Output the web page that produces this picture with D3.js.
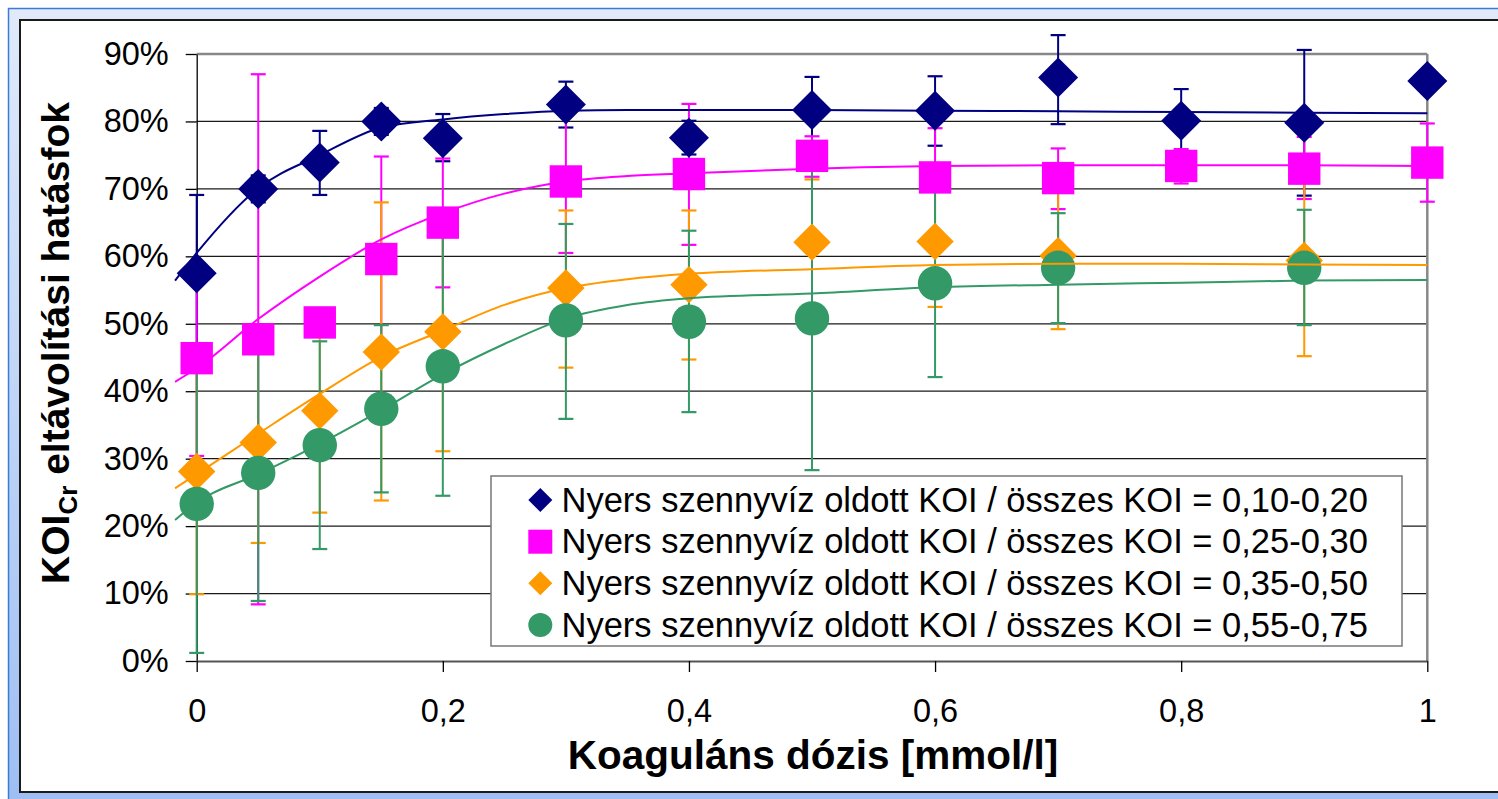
<!DOCTYPE html>
<html>
<head>
<meta charset="utf-8">
<script src="https://cdn.jsdelivr.net/npm/d3@7"></script>
<style>
  body { margin: 0; background: #fff; }
  svg { display: block; font-family: Arial, "Liberation Sans", sans-serif; }
</style>
</head>
<body>
<script>
// dose values (mmol/l)
var doses = [0, 0.05, 0.1, 0.15, 0.2, 0.3, 0.4, 0.5, 0.6, 0.7, 0.8, 0.9, 1.0];

// measured efficiency (%) per series, null = no point
var navyVals    = [57.5, 70.0, 73.9, 80.0, 77.5, 82.5, 77.6, 81.7, 81.6, 86.5, 80.1, 79.8, 86.0];
var navyHi      = [69.1, 72.0, 78.6, 82.0, 81.1, 85.9, 80.1, 86.6, 86.7, 92.8, 84.8, 90.6, null];
var navyLo      = [46.0, 68.0, 69.1, 78.0, 74.1, 79.1, 75.1, 76.8, 76.4, 79.6, 75.4, 69.0, null];

var pinkVals    = [44.9, 47.7, 50.2, 59.6, 65.0, 71.1, 72.2, 74.9, 71.7, 71.6, 73.4, 73.0, 73.9];
var pinkHi      = [58.5, 87.0, 52.0, 74.8, 74.5, 81.7, 82.6, 77.8, 79.0, 76.0, 75.9, 77.7, 79.7];
var pinkLo      = [30.4, 8.4, 48.4, 44.4, 55.4, 60.5, 61.7, 71.8, 70.0, 67.0, 70.8, 68.5, 68.1];

var orangeVals  = [28.1, 32.4, 37.1, 45.8, 48.8, 55.3, 55.8, 62.1, 62.2, 60.1, null, 59.4, null];
var orangeHi    = [46.0, 47.0, 52.2, 68.0, 66.5, 66.8, 66.8, 71.4, 72.0, 71.0, null, 73.0, null];
var orangeLo    = [9.9, 17.5, 22.0, 23.8, 31.1, 43.5, 44.7, 52.8, 52.5, 49.2, null, 45.2, null];

var greenVals   = [23.3, 27.9, 32.0, 37.4, 43.7, 50.5, 50.3, 50.8, 56.0, 58.3, null, 58.3, null];
var greenHi     = [45.4, 46.9, 47.4, 49.8, 63.0, 64.8, 63.8, 73.0, 70.0, 66.4, null, 66.9, null];
var greenLo     = [1.2, 8.9, 16.6, 25.0, 24.5, 35.9, 36.9, 28.3, 42.1, 50.1, null, 49.8, null];

// trend lines
var trendX      = [-0.0176, 0, 0.05, 0.1, 0.15, 0.2, 0.25, 0.3, 0.35, 0.4, 0.5, 0.6, 0.7, 0.8, 0.9, 1.0];
var navyTrend   = [56.4, 60.5, 70.1, 75.0, 79.1, 80.3, 81.1, 81.6, 81.7, 81.7, 81.7, 81.6, 81.5, 81.4, 81.3, 81.2];
var pinkTrend   = [41.4, 43.4, 50.7, 57.0, 62.5, 66.4, 69.3, 71.1, 71.9, 72.3, 73.0, 73.4, 73.5, 73.5, 73.5, 73.4];
var orangeTrend = [25.6, 27.7, 33.7, 39.6, 45.1, 49.0, 52.8, 55.3, 56.6, 57.4, 58.1, 58.7, 58.9, 58.9, 58.8, 58.7];
var greenTrend  = [20.9, 23.5, 27.7, 32.2, 37.2, 42.5, 47.0, 50.8, 52.8, 53.8, 54.5, 55.4, 55.8, 56.1, 56.4, 56.5];

var seriesNames = [
  "Nyers szennyvíz oldott KOI / összes KOI = 0,10-0,20",
  "Nyers szennyvíz oldott KOI / összes KOI = 0,25-0,30",
  "Nyers szennyvíz oldott KOI / összes KOI = 0,35-0,50",
  "Nyers szennyvíz oldott KOI / összes KOI = 0,55-0,75"
];

var yTicks = [0, 10, 20, 30, 40, 50, 60, 70, 80, 90];
var xTicks = [0, 0.2, 0.4, 0.6, 0.8, 1];

var series = [
  {vals: navyVals, hi: navyHi, lo: navyLo, trend: navyTrend, color: "#000080", shape: "diamond", size: 20, lsize: 12},
  {vals: pinkVals, hi: pinkHi, lo: pinkLo, trend: pinkTrend, color: "#ff00ff", shape: "square", size: 16.2, lsize: 12},
  {vals: orangeVals, hi: orangeHi, lo: orangeLo, trend: orangeTrend, color: "#ff9900", shape: "diamond", size: 18.7, lsize: 12},
  {vals: greenVals, hi: greenHi, lo: greenLo, trend: greenTrend, color: "#339966", shape: "circle", size: 17.2, lsize: 12}
];

var W = 1498, H = 799;
var svg = d3.select("body").append("svg").attr("width", W).attr("height", H);

// window-like frame
var defs = svg.append("defs");
var grad = defs.append("linearGradient").attr("id", "frameGrad")
    .attr("x1", 0).attr("y1", 0).attr("x2", 0).attr("y2", 1);
grad.append("stop").attr("offset", "0%").attr("stop-color", "#e0eafa");
grad.append("stop").attr("offset", "100%").attr("stop-color", "#9cbdf3");

svg.append("rect").attr("x", 8.5).attr("y", 8.5).attr("width", W + 20).attr("height", H + 20)
    .attr("fill", "url(#frameGrad)").attr("stroke", "#3a7bd5").attr("stroke-width", 1.5);
svg.append("rect").attr("x", 20).attr("y", 20).attr("width", W + 20).attr("height", 772)
    .attr("fill", "#fff").attr("stroke", "#1a1a1a").attr("stroke-width", 2);

var x = d3.scaleLinear().domain([0, 1]).range([196.7, 1427.3]);
var y = d3.scaleLinear().domain([0, 90]).range([661, 54]);

// gridlines
svg.append("g").selectAll("line")
    .data(yTicks.filter(function(d){ return d > 0 && d < 90; }))
    .enter().append("line")
    .attr("x1", x(0)).attr("x2", x(1))
    .attr("y1", function(d){ return y(d); }).attr("y2", function(d){ return y(d); })
    .attr("stroke", "#1a1a1a").attr("stroke-width", 1.2);

// top and right border of plot area
svg.append("line").attr("x1", x(0)).attr("x2", x(1)).attr("y1", y(90)).attr("y2", y(90))
    .attr("stroke", "#888").attr("stroke-width", 2.5);
svg.append("line").attr("x1", x(1)).attr("x2", x(1)).attr("y1", y(90)).attr("y2", y(0))
    .attr("stroke", "#888").attr("stroke-width", 2.5);

// y axis
var yAxis = svg.append("g").attr("transform", "translate(" + x(0) + ",0)")
    .call(d3.axisLeft(y).tickValues(yTicks).tickSize(11).tickSizeOuter(0).tickPadding(17)
        .tickFormat(function(d){ return d + "%"; }));
yAxis.select(".domain").attr("stroke", "#000").attr("stroke-width", 1.3);
yAxis.selectAll(".tick line").attr("stroke", "#000").attr("stroke-width", 1.3);
yAxis.selectAll(".tick text").attr("font-size", "32.5px").attr("fill", "#000")
    .attr("font-family", "Arial, 'Liberation Sans', sans-serif");

// x axis
var xAxis = svg.append("g").attr("transform", "translate(0," + y(0) + ")")
    .call(d3.axisBottom(x).tickValues(xTicks).tickSize(11).tickSizeOuter(0).tickPadding(26.7)
        .tickFormat(function(d){ return d3.format("")(d).replace(".", ","); }));
xAxis.select(".domain").attr("stroke", "#555").attr("stroke-width", 2.2);
xAxis.selectAll(".tick line").attr("stroke", "#000").attr("stroke-width", 1.3);
xAxis.selectAll(".tick text").attr("font-size", "32.5px").attr("fill", "#000")
    .attr("font-family", "Arial, 'Liberation Sans', sans-serif");

// axis titles
svg.append("text").attr("x", 813).attr("y", 769).attr("text-anchor", "middle")
    .attr("font-size", "40.5px").attr("font-weight", "bold").text("Koaguláns dózis [mmol/l]");

var yt = svg.append("text").attr("transform", "translate(69,343) rotate(-90)")
    .attr("text-anchor", "middle").attr("font-size", "39px").attr("font-weight", "bold");
yt.append("tspan").text("KOI");
yt.append("tspan").attr("font-size", "26px").attr("dy", 8).text("Cr");
yt.append("tspan").attr("dy", -8).text(" eltávolítási hatásfok");

// markers
function drawMarker(g, shape, cx, cy, r, color) {
  if (shape === "diamond") {
    g.append("path")
      .attr("d", "M" + cx + "," + (cy - r) + "L" + (cx + r) + "," + cy + "L" + cx + "," + (cy + r) + "L" + (cx - r) + "," + cy + "Z")
      .attr("fill", color);
  } else if (shape === "square") {
    g.append("rect").attr("x", cx - r).attr("y", cy - r).attr("width", 2 * r).attr("height", 2 * r)
      .attr("fill", color);
  } else {
    g.append("circle").attr("cx", cx).attr("cy", cy).attr("r", r).attr("fill", color);
  }
}

// error bars
var errG = svg.append("g");
series.forEach(function(s) {
  doses.forEach(function(d, i) {
    if (s.vals[i] === null || s.hi[i] === null) return;
    var px = x(d);
    errG.append("line").attr("x1", px).attr("x2", px)
      .attr("y1", y(s.hi[i])).attr("y2", y(s.lo[i]))
      .attr("stroke", s.color).attr("stroke-width", 2);
    [s.hi[i], s.lo[i]].forEach(function(v) {
      errG.append("line").attr("x1", px - 7.5).attr("x2", px + 7.5)
        .attr("y1", y(v)).attr("y2", y(v))
        .attr("stroke", s.color).attr("stroke-width", 2.2);
    });
  });
});

// points
var markG = svg.append("g");
series.forEach(function(s) {
  doses.forEach(function(d, i) {
    if (s.vals[i] === null) return;
    drawMarker(markG, s.shape, x(d), y(s.vals[i]), s.size, s.color);
  });
});

// trend lines
var line = d3.line()
    .x(function(d){ return x(d[0]); })
    .y(function(d){ return y(d[1]); })
    .curve(d3.curveMonotoneX);
series.forEach(function(s) {
  svg.append("path")
    .datum(trendX.map(function(t, i){ return [t, s.trend[i]]; }))
    .attr("d", line)
    .attr("fill", "none")
    .attr("stroke", s.color)
    .attr("stroke-width", 2);
});

// legend
var leg = svg.append("g");
leg.append("rect").attr("x", 491).attr("y", 476).attr("width", 911).attr("height", 170)
    .attr("fill", "#fff").attr("stroke", "#777").attr("stroke-width", 1.5);
var legY = [500, 541.7, 583.3, 625];
series.forEach(function(s, i) {
  drawMarker(leg, s.shape, 540.3, legY[i], s.lsize, s.color);
  leg.append("text").attr("x", 561.5).attr("y", legY[i] + 11.5)
    .attr("font-size", "34.5px").attr("fill", "#000").text(seriesNames[i]);
});
</script>
</body>
</html>
